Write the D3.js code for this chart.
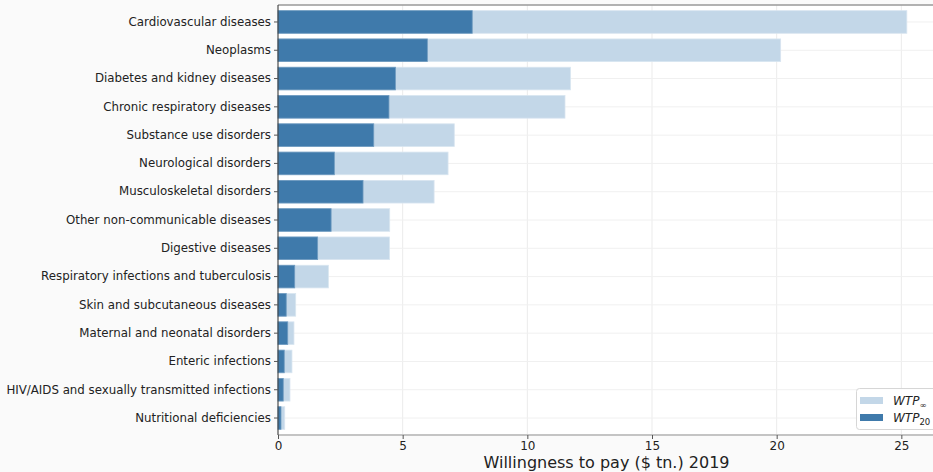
<!DOCTYPE html>
<html><head><meta charset="utf-8">
<script src="https://cdn.jsdelivr.net/npm/d3@7"></script>
<style>
html,body{margin:0;padding:0;background:#fafafa;}
svg{display:block;font-family:"DejaVu Sans",sans-serif;}
</style></head>
<body><svg id="c" width="933" height="472"></svg>
<script>
const categories = ["Cardiovascular diseases","Neoplasms","Diabetes and kidney diseases","Chronic respiratory diseases","Substance use disorders","Neurological disorders","Musculoskeletal disorders","Other non-communicable diseases","Digestive diseases","Respiratory infections and tuberculosis","Skin and subcutaneous diseases","Maternal and neonatal disorders","Enteric infections","HIV/AIDS and sexually transmitted infections","Nutritional deficiencies"];
const wtpInf = [25.22,20.16,11.73,11.51,7.07,6.82,6.26,4.48,4.47,2.02,0.71,0.64,0.56,0.48,0.27];
const wtp20 = [7.79,5.99,4.71,4.45,3.84,2.26,3.41,2.13,1.59,0.67,0.33,0.39,0.25,0.21,0.12];
const xTicks = [0,5,10,15,20,25];

const svg = d3.select("#c");
const L = 278, R = 933, T = 5, B = 435;
const x = d3.scaleLinear().domain([0, 26.27]).range([L, R]);
const y = d3.scaleBand().domain(categories).range([T, B]).padding(0.2);

svg.append("rect").attr("x",L).attr("y",T).attr("width",R-L).attr("height",B-T).attr("fill","#ffffff");

// grid
svg.append("g").selectAll("line").data(xTicks).join("line")
  .attr("x1",d=>x(d)).attr("x2",d=>x(d)).attr("y1",T).attr("y2",B)
  .attr("stroke","#ebebeb").attr("stroke-width",1);
svg.append("g").selectAll("line").data(categories).join("line")
  .attr("x1",L).attr("x2",R).attr("y1",d=>y(d)+y.bandwidth()/2).attr("y2",d=>y(d)+y.bandwidth()/2)
  .attr("stroke","#f0f0f0").attr("stroke-width",1);

// bars
svg.append("g").selectAll("rect").data(categories).join("rect")
  .attr("x",x(0)).attr("y",d=>y(d)).attr("height",y.bandwidth())
  .attr("width",(d,i)=>x(wtpInf[i])-x(0))
  .attr("fill","#c3d7e8").attr("stroke","#d8e5f0").attr("stroke-width",0.8);
svg.append("g").selectAll("rect").data(categories).join("rect")
  .attr("x",x(0)).attr("y",d=>y(d)).attr("height",y.bandwidth())
  .attr("width",(d,i)=>x(wtp20[i])-x(0))
  .attr("fill","#3f7aab").attr("stroke","#6f9bc0").attr("stroke-width",0.8);

// spines
svg.append("line").attr("x1",L).attr("x2",R).attr("y1",T).attr("y2",T).attr("stroke","#999").attr("stroke-width",1.5);
svg.append("line").attr("x1",L).attr("x2",R).attr("y1",B).attr("y2",B).attr("stroke","#c4c4c4").attr("stroke-width",2);
svg.append("line").attr("x1",L).attr("x2",L).attr("y1",T).attr("y2",B).attr("stroke","#333").attr("stroke-width",1);

// y axis
const ya = svg.append("g").attr("transform",`translate(${L},0)`).call(d3.axisLeft(y).tickSize(4).tickPadding(3));
ya.select(".domain").remove();
ya.selectAll("line").attr("stroke","#555");
ya.selectAll("text").attr("font-size","11.8px").attr("fill","#222").attr("font-family","DejaVu Sans");

// x axis
const xa = svg.append("g").attr("transform",`translate(0,${B})`).call(d3.axisBottom(x).tickValues(xTicks).tickSize(4).tickPadding(2));
xa.select(".domain").remove();
xa.selectAll("line").attr("stroke","#555");
xa.selectAll("text").attr("font-size","12px").attr("fill","#222").attr("font-family","DejaVu Sans");

svg.append("text").attr("x",(L+R)/2+1).attr("y",468).attr("text-anchor","middle")
  .attr("font-size","16px").attr("fill","#222").text("Willingness to pay ($ tn.) 2019");

// legend
const lg = svg.append("g");
lg.append("rect").attr("x",856.5).attr("y",388.5).attr("width",80).attr("height",41).attr("rx",3)
  .attr("fill","#ffffff").attr("fill-opacity",0.85).attr("stroke","#d6d6d6");
const items = [{c:"#c3d7e8", sub:"∞", y:400.5},{c:"#3f7aab", sub:"20", y:417.5}];
items.forEach(it=>{
  lg.append("rect").attr("x",860).attr("y",it.y-3.5).attr("width",23).attr("height",7).attr("fill",it.c);
  const t = lg.append("text").attr("x",893).attr("y",it.y+4).attr("font-size","12px").attr("fill","#222");
  t.append("tspan").attr("font-style","italic").text("WTP");
  t.append("tspan").attr("font-size","8.5px").attr("dy",3).text(it.sub);
});
</script></body></html>
